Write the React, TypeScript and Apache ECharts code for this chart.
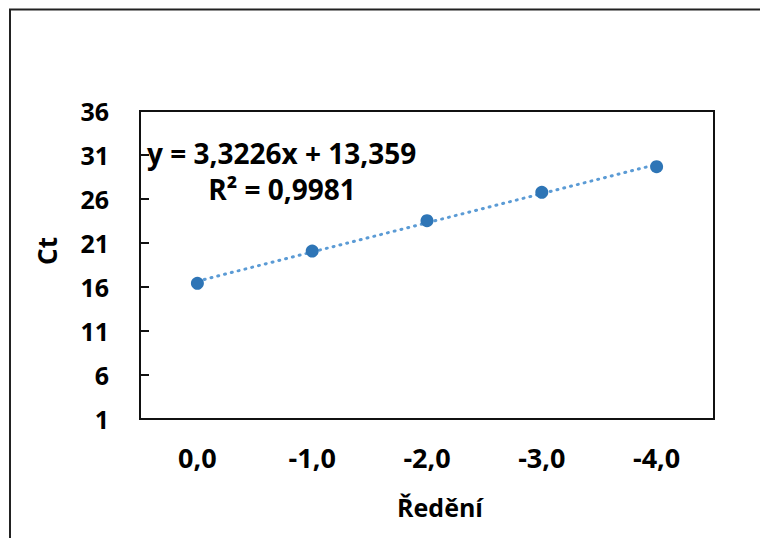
import React, { useEffect, useRef } from "react";
import * as echarts from "echarts";

const categories = ["0,0", "-1,0", "-2,0", "-3,0", "-4,0"];
const ctValues = [16.42, 20.09, 23.53, 26.76, 29.67];
const yMin = 1;
const yMax = 36;
const yInterval = 5;
const equationText = "y = 3,3226x + 13,359";
const r2Text = "R² = 0,9981";
const xTitle = "Ředění";
const yTitle = "Ct";

function linearFit(values: number[]) {
  const n = values.length;
  const xs = values.map((_, i) => i + 1);
  const mx = xs.reduce((a, b) => a + b, 0) / n;
  const my = values.reduce((a, b) => a + b, 0) / n;
  let sxy = 0;
  let sxx = 0;
  for (let i = 0; i < n; i++) {
    sxy += (xs[i] - mx) * (values[i] - my);
    sxx += (xs[i] - mx) * (xs[i] - mx);
  }
  const slope = sxy / sxx;
  const intercept = my - slope * mx;
  return xs.map((x) => slope * x + intercept);
}

const FONT = "'Open Sans', 'Noto Sans', sans-serif";

export default function App() {
  const ref = useRef<HTMLDivElement>(null);
  useEffect(() => {
    if (!ref.current) return;
    const chart = echarts.init(ref.current, undefined, { renderer: "svg" });
    const fitted = linearFit(ctValues);
    chart.setOption({
      animation: false,
      backgroundColor: "#ffffff",
      grid: {
        left: 140,
        top: 111,
        width: 574,
        height: 308,
        show: true,
        borderColor: "#111",
        borderWidth: 2,
        containLabel: false,
      },
      xAxis: {
        type: "category",
        data: categories,
        boundaryGap: true,
        axisLine: { lineStyle: { color: "#111", width: 2 } },
        axisTick: { inside: true, length: 10, lineStyle: { color: "#111", width: 2 } },
        axisLabel: {
          margin: 25,
          color: "#000",
          fontFamily: FONT,
          fontWeight: "bold",
          fontSize: 27,
        },
        splitLine: { show: false },
      },
      yAxis: {
        type: "value",
        min: yMin,
        max: yMax,
        interval: yInterval,
        axisLine: { show: true, lineStyle: { color: "#111", width: 2 } },
        axisTick: { show: true, inside: true, length: 9, lineStyle: { color: "#111", width: 2 } },
        axisLabel: {
          margin: 31,
          color: "#000",
          fontFamily: FONT,
          fontWeight: "bold",
          fontSize: 25,
        },
        splitLine: { show: false },
      },
      series: [
        {
          type: "line",
          data: fitted,
          symbol: "none",
          silent: true,
          z: 1,
          lineStyle: { color: "#5B9BD5", width: 3, type: [1, 6], cap: "round" },
        },
        {
          type: "scatter",
          data: ctValues,
          symbol: "circle",
          symbolSize: 13,
          z: 3,
          itemStyle: { color: "#2E75B6", opacity: 1 },
        },
      ],
      graphic: [
        {
          type: "rect",
          shape: { x: 10, y: 9.5, width: 900, height: 700 },
          style: { fill: "none", stroke: "#222", lineWidth: 2 },
          silent: true,
          z: -1,
        },
        {
          type: "text",
          x: 147,
          y: 153,
          style: {
            text: equationText,
            fill: "#000",
            font: `bold 28px ${FONT}`,
            textAlign: "left",
            textVerticalAlign: "middle",
          },
        },
        {
          type: "text",
          x: 282,
          y: 189,
          style: {
            text: r2Text,
            fill: "#000",
            font: `bold 28px ${FONT}`,
            textAlign: "center",
            textVerticalAlign: "middle",
          },
        },
        {
          type: "text",
          x: 47,
          y: 251,
          rotation: Math.PI / 2,
          style: {
            text: yTitle,
            fill: "#000",
            font: `bold 26px ${FONT}`,
            textAlign: "center",
            textVerticalAlign: "middle",
          },
        },
        {
          type: "text",
          x: 440,
          y: 507,
          style: {
            text: xTitle,
            fill: "#000",
            font: `bold 25px ${FONT}`,
            textAlign: "center",
            textVerticalAlign: "middle",
          },
        },
      ],
    });
    return () => chart.dispose();
  }, []);
  return (
    <div
      ref={ref}
      style={{ position: "fixed", left: 0, top: 0, width: 760, height: 538 }}
    />
  );
}
